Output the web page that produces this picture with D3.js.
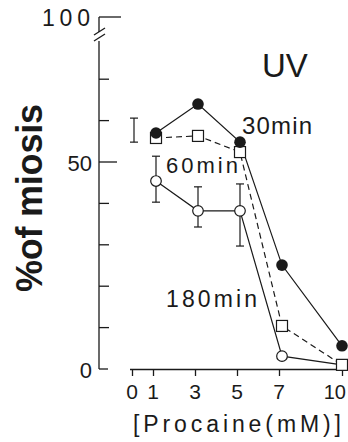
<!DOCTYPE html>
<html><head><meta charset="utf-8">
<script src="https://cdn.jsdelivr.net/npm/d3@7/dist/d3.min.js"></script>
<style>
html,body{margin:0;padding:0;background:#fff;}
svg{display:block;}
text{font-family:"Liberation Sans",Arial,Helvetica,sans-serif;fill:#1a1a1a;}
</style></head>
<body>
<svg id="c" width="348" height="442"></svg>
<script>
// ---- data ----
const concentrations = [1, 3, 5, 7, 10];
const xTickValues = [0, 1, 3, 5, 7, 10];
const yTickValues = [0, 10, 20, 30, 40, 50, 60, 70];
const yTickLabels = [{v: 0, t: "0"}, {v: 50, t: "50"}];
const breakTopLabel = "100";
const min30 = [57.0, 64.0, 54.8, 25.1, 5.6];
const min60 = [55.8, 56.3, 52.4, 10.4, 1.0];
const min180 = [45.4, 38.2, 38.2, 3.1, 1.0];
const min180Upper = [51.4, 44.0, 44.7, null, null];
const min180Lower = [40.3, 34.3, 29.7, null, null];
const controlX = 0;
const controlUpper = 60.6;
const controlLower = 54.8;
const seriesLabels = ["30min", "60min", "180min"];
const panelLabel = "UV";
const xTitle = "[Procaine(mM)]";
const yTitle = "%of miosis";

// ---- drawing ----
const svg = d3.select("#c");
const ink = "#1a1a1a";
const x = d3.scaleLinear().domain([0, 10]).range([132, 342]);
const y = d3.scaleLinear().domain([0, 50]).range([369, 162]);
const yAxisX = 99;

// y axis line (with break)
const yTopPx = 17;
svg.append("line").attr("x1", yAxisX).attr("x2", yAxisX).attr("y1", yTopPx).attr("y2", 32)
  .attr("stroke", ink).attr("stroke-width", 1.3);
svg.append("line").attr("x1", yAxisX).attr("x2", yAxisX).attr("y1", 41).attr("y2", y(0))
  .attr("stroke", ink).attr("stroke-width", 1.3);
[0, 6].forEach(o => {
  svg.append("line").attr("x1", yAxisX - 5).attr("y1", 37 + o - 2).attr("x2", yAxisX + 6).attr("y2", 30 + o - 2)
    .attr("stroke", ink).attr("stroke-width", 1.3);
});
// top tick (100)
svg.append("line").attr("x1", yAxisX).attr("x2", yAxisX + 22).attr("y1", yTopPx).attr("y2", yTopPx)
  .attr("stroke", ink).attr("stroke-width", 1.3);
svg.append("text").attr("x", 42).attr("y", 26)
  .attr("font-size", 23).attr("textLength", 48).attr("lengthAdjust", "spacing").text(breakTopLabel);

// y ticks (inward)
svg.selectAll(".yt").data(yTickValues).enter().append("line")
  .attr("x1", yAxisX).attr("x2", d => yAxisX + (d === 50 ? 18 : d === 0 ? 9 : 10))
  .attr("y1", d => y(d)).attr("y2", d => y(d))
  .attr("stroke", ink).attr("stroke-width", 1.3);
svg.selectAll(".yl").data(yTickLabels).enter().append("text")
  .attr("x", 92).attr("y", d => y(d.v) + 9).attr("text-anchor", "end")
  .attr("font-size", 22).text(d => d.t);

// x axis
const xAxis = d3.axisBottom(x).tickValues(xTickValues).tickSize(7).tickFormat("");
const gx = svg.append("g").attr("transform", `translate(0,${y(0)})`).call(xAxis);
gx.select(".domain").attr("d", `M${x(0) - 2},0.5H348`).attr("stroke", ink).attr("stroke-width", 1.3);
gx.selectAll(".tick line").attr("stroke", ink).attr("stroke-width", 1.3);
svg.selectAll(".xl").data(xTickValues.filter(d => d !== 10)).enter().append("text")
  .attr("x", d => x(d)).attr("y", 399).attr("text-anchor", "middle")
  .attr("font-size", 21).text(d => d);
svg.append("text").attr("x", 346).attr("y", 399).attr("font-size", 20).attr("text-anchor", "end")
  .text(xTickValues[xTickValues.length - 1]);

// titles
svg.append("text").attr("x", 133).attr("y", 432).attr("font-size", 23)
  .attr("textLength", 208).attr("lengthAdjust", "spacing").text(xTitle);
svg.append("text").attr("transform", "translate(42,198) rotate(-90)").attr("text-anchor", "middle")
  .attr("font-size", 36).attr("font-weight", "bold").attr("textLength", 188).attr("lengthAdjust", "spacing").text(yTitle);
svg.append("text").attr("x", 262).attr("y", 77).attr("font-size", 33).attr("font-weight", 300).text(panelLabel);

// series labels
svg.append("text").attr("x", 242).attr("y", 134).attr("font-size", 24)
  .attr("textLength", 70).attr("lengthAdjust", "spacing").text(seriesLabels[0]);
svg.append("text").attr("x", 166).attr("y", 173).attr("font-size", 22)
  .attr("textLength", 72).attr("lengthAdjust", "spacing").text(seriesLabels[1]);
svg.append("text").attr("x", 166).attr("y", 307).attr("font-size", 23)
  .attr("textLength", 91).attr("lengthAdjust", "spacing").text(seriesLabels[2]);

// error bars
function errBar(cx, lo, hi) {
  const cap = 4;
  svg.append("line").attr("x1", cx).attr("x2", cx).attr("y1", y(lo)).attr("y2", y(hi)).attr("stroke", ink).attr("stroke-width", 1.2);
  [lo, hi].forEach(v => svg.append("line").attr("x1", cx - cap).attr("x2", cx + cap).attr("y1", y(v)).attr("y2", y(v)).attr("stroke", ink).attr("stroke-width", 1.2));
}
errBar(x(controlX) + 2, controlLower, controlUpper);
concentrations.forEach((c, i) => {
  if (min180Upper[i] != null) errBar(x(c) + 3, min180Lower[i], min180Upper[i]);
});

// lines
const pts = arr => concentrations.map((c, i) => [x(c) + (c === 10 ? 0 : 3), y(arr[i])]);
const line = d3.line();
svg.append("path").attr("d", line(pts(min180))).attr("fill", "none").attr("stroke", ink).attr("stroke-width", 1.2);
svg.append("path").attr("d", line(pts(min60))).attr("fill", "none").attr("stroke", ink).attr("stroke-width", 1.2).attr("stroke-dasharray", "6,4");
svg.append("path").attr("d", line(pts(min30))).attr("fill", "none").attr("stroke", ink).attr("stroke-width", 1.2);

// markers
svg.selectAll(".p180").data(pts(min180)).enter().append("circle")
  .attr("cx", d => d[0]).attr("cy", d => d[1]).attr("r", 5.3)
  .attr("fill", "#fff").attr("stroke", ink).attr("stroke-width", 1.2);
svg.selectAll(".p60").data(pts(min60)).enter().append("rect")
  .attr("x", d => d[0] - 5.5).attr("y", d => d[1] - 5.5).attr("width", 11).attr("height", 11)
  .attr("fill", "#fff").attr("stroke", ink).attr("stroke-width", 1.2);
svg.selectAll(".p30").data(pts(min30)).enter().append("circle")
  .attr("cx", d => d[0]).attr("cy", d => d[1]).attr("r", 5.8)
  .attr("fill", ink);
</script>
</body></html>
